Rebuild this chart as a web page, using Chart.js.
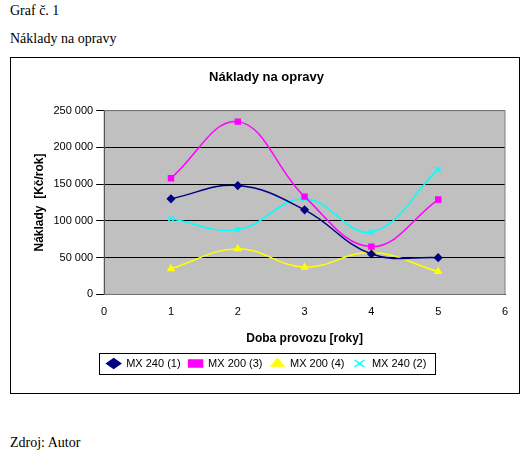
<!DOCTYPE html>
<html><head><meta charset="utf-8">
<script src="https://cdn.jsdelivr.net/npm/chart.js@4"></script>
<style>
body{margin:0;width:532px;height:460px;background:#fff;font-family:"Liberation Serif","Times New Roman",serif;font-size:14px;position:relative}
.t{position:absolute;left:10px}
#box{position:absolute;left:10px;top:57px;width:508px;height:335px;border:1px solid #000}
</style></head><body>
<div class="t" style="top:3px">Graf č. 1</div>
<div class="t" style="top:31px">Náklady na opravy</div>
<div id="box"><canvas id="c" width="508" height="335"></canvas></div>
<div class="t" style="top:435px">Zdroj: Autor</div>
<script>
const years=[1,2,3,4,5];
const mx240_1=[130000,148000,115000,55000,50000];
const mx200_3=[158000,235000,133000,65000,129000];
const mx200_4=[35000,62000,37000,57000,31000];
const mx240_2=[103000,88000,130000,85000,170000];
const names=["MX 240 (1)","MX 200 (3)","MX 200 (4)","MX 240 (2)"];
const colors=["#000080","#FF00FF","#FFFF00","#00FFFF"];
const shapes=["rectRot","rect","triangle","crossRot"];
const series=[mx240_1,mx200_3,mx200_4,mx240_2];
const ds=series.map((s,i)=>({label:names[i],data:s.map((v,j)=>({x:years[j],y:v})),borderColor:colors[i],backgroundColor:colors[i],
 pointStyle:shapes[i],pointRadius:3.5,borderWidth:1.5,tension:0.4,cubicInterpolationMode:'default',showLine:true}));
const bg={id:'bg',beforeDraw(c){const a=c.chartArea,x=c.ctx;x.save();x.fillStyle='#C0C0C0';x.fillRect(a.left,a.top,a.right-a.left,a.bottom-a.top);x.restore();},
 afterDraw(c){const a=c.chartArea,x=c.ctx;x.save();x.strokeStyle='#808080';x.lineWidth=1;x.strokeRect(a.left,a.top,a.right-a.left,a.bottom-a.top);
 const l=c.legend,h=l.legendHitBoxes;const L=Math.min(...h.map(b=>b.left))-8,R=Math.max(...h.map(b=>b.left+b.width))+8;
 const T=Math.min(...h.map(b=>b.top))-5,B=Math.max(...h.map(b=>b.top+b.height))+5;
 x.strokeStyle='#000';x.strokeRect(Math.round(L)+0.5,Math.round(T)+0.5,Math.round(R-L),Math.round(B-T));x.restore();}};
Chart.defaults.font.family='Arial, "Liberation Sans", sans-serif';
Chart.defaults.color='#000';
new Chart(document.getElementById('c'),{type:'scatter',data:{datasets:ds},plugins:[bg],
options:{responsive:false,animation:false,layout:{padding:{left:17,right:14,top:0,bottom:14}},
plugins:{title:{display:true,text:'Náklady na opravy',font:{size:13,weight:'bold'},padding:{top:12,bottom:25}},
 legend:{position:'bottom',labels:{usePointStyle:true,pointStyleWidth:14,boxHeight:7,font:{size:11},padding:8,
  generateLabels(c){return c.data.datasets.map((d,i)=>({text:d.label,fillStyle:d.backgroundColor,strokeStyle:d.borderColor,pointStyle:d.pointStyle,lineWidth:1.5,datasetIndex:i}));}}},
 tooltip:{enabled:false}},
scales:{x:{type:'linear',min:0,max:6,ticks:{stepSize:1,font:{size:11}},grid:{display:false,drawTicks:true},border:{color:'#000'},
  title:{display:true,text:'Doba provozu [roky]',font:{size:12,weight:'bold'},padding:{top:10,bottom:4}}},
 y:{min:0,max:250000,ticks:{stepSize:50000,font:{size:11},callback:v=>v.toLocaleString('cs-CZ').replace(/\s/g,' ')},grid:{color:'#000',drawTicks:true,tickColor:'#000'},border:{color:'#000'},
  title:{display:true,text:'Náklady  [Kč/rok]',font:{size:12,weight:'bold'}}}}}});
</script></body></html>
